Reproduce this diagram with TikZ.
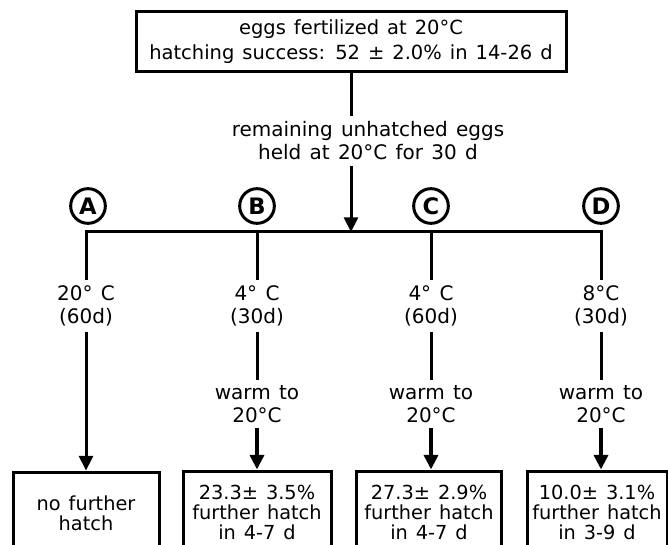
\documentclass[tikz,border=0pt]{standalone}
\usepackage{fontspec}
\setmainfont{DejaVu Sans}[WordSpace=1.3]
\usetikzlibrary{arrows.meta}

\tikzset{every picture/.style={line width=2.25pt}}

\begin{document}
\begin{tikzpicture}[x=0.75pt,y=0.75pt,yscale=-1,xscale=1,
	every node/.style={font=\fontsize{15}{17.25}\selectfont, align=center, inner sep=3pt},
	rbox/.style={draw, line width=2.25pt, minimum height=61.5pt, font=\fontsize{14.5}{15}\selectfont},
	lett/.style={draw, circle, line width=2.25pt, minimum size=26pt, inner sep=0pt, font=\bfseries\fontsize{17}{17}\selectfont},
	arr/.style={-{Triangle[length=11pt,width=10.5pt]}}]
	\useasboundingbox (0,0) rectangle (668,545);

	%Shape: Rectangle 
	\node[draw, minimum width=322.5pt, minimum height=45pt, font=\fontsize{14.6}{18.75}\selectfont] (fert) at (351,42) {eggs fertilized at 20°C\\hatching success: 52 ± 2.0\% in 14-26 d};
	% Text Node
	\node (held) at (368,141) {remaining unhatched eggs\\held at 20°C for 30 d};
	\coordinate (split) at (351,232);
	\coordinate (jB) at (257,232);
	\coordinate (jC) at (431,232);
	\coordinate (jD) at (601,232);

	%Shape: Circle 
	\node[lett] (labA) at (88,206) {A};
	\node[lett] (labB) at (257,206) {B};
	\node[lett] (labC) at (431,206) {C};
	\node[lett] (labD) at (601,206) {D};

	% Text Node
	\node (condA) at (86,306) {20° C\\(60d)};
	% Text Node
	\node (condB) at (257,306) {4° C\\(30d)};
	% Text Node
	\node (condC) at (431,306) {4° C\\(60d)};
	% Text Node
	\node (condD) at (601,306) {8°C\\(30d)};

	% Text Node
	\node (warmB) at (257,404) {warm to\\20°C};
	% Text Node
	\node (warmC) at (431,404) {warm to\\20°C};
	% Text Node
	\node (warmD) at (601,404) {warm to\\20°C};

	%Shape: Rectangle 
	\node[rbox, minimum width=109.5pt] (resA) at (86,513) {no further\\hatch};
	\node[rbox, minimum width=111pt] (resB) at (257,512) {23.3± 3.5\%\\further hatch\\in 4-7 d};
	\node[rbox, minimum width=108.75pt] (resC) at (429,512) {27.3± 2.9\%\\further hatch\\in 4-7 d};
	\node[rbox, minimum width=105pt] (resD) at (597,512) {10.0± 3.1\%\\further hatch\\in 3-9 d};

	%Straight Lines 
	\draw (fert.south -| split) -- (split |- held.north);
	\draw[arr] (split |- held.south) -- (split);
	\draw[line join=miter] (condA.north) |- (jD) -- (condD.north);
	\draw (jB) -- (condB.north);
	\draw (jC) -- (condC.north);

	%Straight Lines 
	\draw[arr] (condA) -- (resA);
	\draw (condB) -- (warmB);
	\draw (condC) -- (warmC);
	\draw (condD) -- (warmD);
	\draw[arr, line width=2.7pt] (warmB) -- (warmB |- resB.north);
	\draw[arr, line width=2.7pt] (warmC) -- (warmC |- resC.north);
	\draw[arr, line width=2.7pt] (warmD) -- (warmD |- resD.north);

\end{tikzpicture}
\end{document}
